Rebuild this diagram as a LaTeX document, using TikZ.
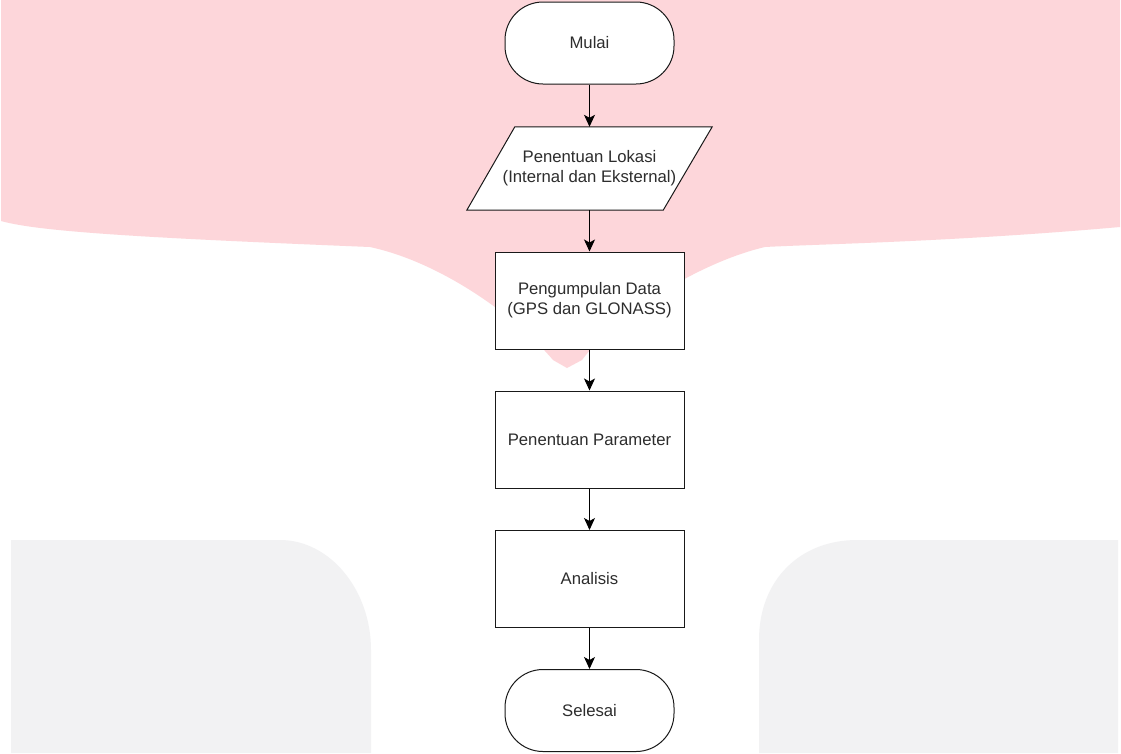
\documentclass[tikz,border=0pt]{standalone}
\usepackage{fontspec}
\setmainfont{Liberation Sans}
\usetikzlibrary{arrows.meta}
\definecolor{wmpink}{RGB}{253,214,218}
\definecolor{wmgray}{RGB}{242,242,243}
\definecolor{txt}{RGB}{45,45,45}
\begin{document}
\begin{tikzpicture}[x=1pt,y=-1pt,
  txtstyle/.style={text=txt, font=\fontsize{16.7}{20}\selectfont, align=center},
  procbox/.style={txtstyle, draw=black!90, line width=1pt, fill=white, minimum width=189pt, minimum height=97pt, inner sep=0pt},
  termbox/.style={procbox, rounded corners=38pt, minimum width=169pt, minimum height=82pt},
  iobox/.style={txtstyle, minimum width=245pt, minimum height=83pt, inner sep=0pt},
  flow/.style={draw=black, line width=1pt, -{Stealth[length=12pt,width=11pt,inset=3pt]}}
]
\useasboundingbox (0,0) rectangle (1121,753);
\fill[white] (0,0) rectangle (1121,753);
% watermark background
\fill[wmpink] (1,0) -- (1120,0) -- (1120,227)
  .. controls (950,242) and (820,244) .. (765,247)
  .. controls (700,262) and (615,315) .. (582,360)
  -- (567,368) -- (553,360)
  .. controls (515,315) and (440,262) .. (370,247)
  .. controls (150,238) and (40,232) .. (1,221) -- cycle;
\fill[wmgray] (11,753) -- (11,540) -- (280,540)
  .. controls (330,540) and (371,590) .. (371,650) -- (371,753) -- cycle;
\fill[wmgray] (759,753) -- (759,640)
  .. controls (759,580) and (800,540) .. (857,540) -- (1118,540) -- (1118,753) -- cycle;
% nodes
\node[termbox] (mulai) at (589.5,43) {Mulai};
\node[iobox] (lok) at (589.5,168.5) {};
\filldraw[fill=white, draw=black!90, line width=1pt, line join=miter]
  ([xshift=48pt]lok.north west) -- (lok.north east) -- ([xshift=-49pt]lok.south east) -- (lok.south west) -- cycle;
\node[txtstyle] (loktext) at (lok.center) {Penentuan Lokasi\\(Internal dan Eksternal)};
\node[procbox] (data) at (589.5,300.5) {Pengumpulan Data\\(GPS dan GLONASS)};
\node[procbox] (param) at (589.5,439.5) {Penentuan Parameter};
\node[procbox] (anal) at (589.5,579) {Analisis};
\node[termbox] (selesai) at (589.5,710.5) {Selesai};
% connectors
\draw[flow] (mulai) -- (lok);
\draw[flow] (lok) -- (data);
\draw[flow] (data) -- (param);
\draw[flow] (param) -- (anal);
\draw[flow] (anal) -- (selesai);
\end{tikzpicture}
\end{document}
